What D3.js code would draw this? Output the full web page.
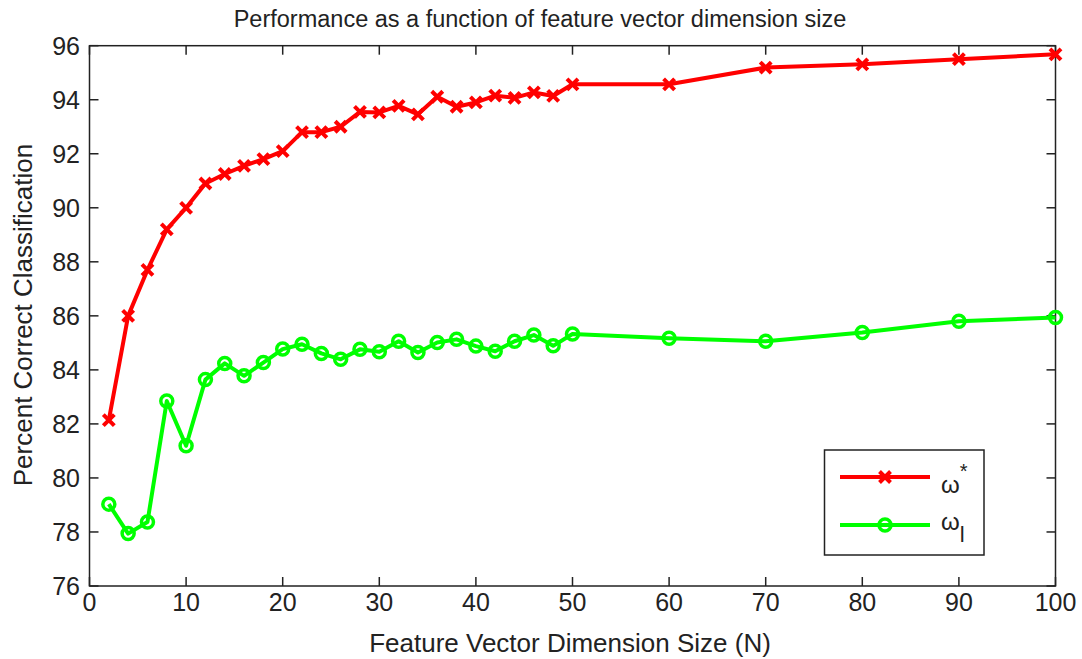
<!DOCTYPE html>
<html><head><meta charset="utf-8">
<script src="https://cdn.jsdelivr.net/npm/d3@7"></script>
<style>body{margin:0;background:#fff}svg text{font-family:"Liberation Sans",Arial,sans-serif;fill:#222}</style>
</head><body><svg id="c" width="1082" height="659"></svg>
<script>
const dims = [2,4,6,8,10,12,14,16,18,20,22,24,26,28,30,32,34,36,38,40,42,44,46,48,50,60,70,80,90,100];
const omegaStar = [82.14,86.0,87.7,89.2,90.0,90.9,91.25,91.55,91.8,92.1,92.8,92.8,93.0,93.55,93.53,93.77,93.46,94.11,93.74,93.9,94.15,94.07,94.27,94.14,94.57,94.57,95.19,95.31,95.5,95.68];
const omegaL = [79.03,77.94,78.37,82.85,81.19,83.64,84.24,83.78,84.27,84.77,84.95,84.61,84.39,84.76,84.67,85.06,84.64,85.01,85.13,84.88,84.69,85.06,85.29,84.89,85.33,85.17,85.06,85.38,85.8,85.94];
const xTicks = [0,10,20,30,40,50,60,70,80,90,100];
const yTicks = [76,78,80,82,84,86,88,90,92,94,96];
const title = "Performance as a function of feature vector dimension size";
const xLabel = "Feature Vector Dimension Size (N)";
const yLabel = "Percent Correct Classification";

const svg = d3.select("#c");
const L=89.5, R=1055.5, T=45.7, B=586;
const x = d3.scaleLinear().domain([0,100]).range([L,R]);
const y = d3.scaleLinear().domain([76,96]).range([B,T]);
const axisCol="#222";
svg.append("rect").attr("x",L).attr("y",T).attr("width",R-L).attr("height",B-T).attr("fill","none").attr("stroke",axisCol).attr("stroke-width",1.5);
const tl=9;
const g=svg.append("g");
xTicks.forEach(t=>{
  g.append("line").attr("x1",x(t)).attr("x2",x(t)).attr("y1",B).attr("y2",B-tl).attr("stroke",axisCol).attr("stroke-width",1.5);
  g.append("line").attr("x1",x(t)).attr("x2",x(t)).attr("y1",T).attr("y2",T+tl).attr("stroke",axisCol).attr("stroke-width",1.5);
  g.append("text").attr("x",x(t)).attr("y",611).attr("text-anchor","middle").attr("font-size",25).text(t);
});
yTicks.forEach(t=>{
  g.append("line").attr("x1",L).attr("x2",L+tl).attr("y1",y(t)).attr("y2",y(t)).attr("stroke",axisCol).attr("stroke-width",1.5);
  g.append("line").attr("x1",R).attr("x2",R-tl).attr("y1",y(t)).attr("y2",y(t)).attr("stroke",axisCol).attr("stroke-width",1.5);
  g.append("text").attr("x",80).attr("y",y(t)+9).attr("text-anchor","end").attr("font-size",25).text(t);
});
svg.append("text").attr("x",540).attr("y",27).attr("text-anchor","middle").attr("font-size",23.5).text(title);
svg.append("text").attr("x",570).attr("y",652).attr("text-anchor","middle").attr("font-size",26).text(xLabel);
svg.append("text").attr("transform","translate(32,315) rotate(-90)").attr("text-anchor","middle").attr("font-size",26).text(yLabel);

const line=d3.line().x(d=>x(d[0])).y(d=>y(d[1]));
const red="#ff0000", green="#00ff00";
const sStar=dims.map((d,i)=>[d,omegaStar[i]]);
const sL=dims.map((d,i)=>[d,omegaL[i]]);
svg.append("path").datum(sStar).attr("d",line).attr("fill","none").attr("stroke",red).attr("stroke-width",4).attr("stroke-linejoin","round");
svg.append("path").datum(sL).attr("d",line).attr("fill","none").attr("stroke",green).attr("stroke-width",4).attr("stroke-linejoin","round");
function xMark(sel,cx,cy){const s=5.5;
  sel.append("path").attr("d",`M${cx-s},${cy-s}L${cx+s},${cy+s}M${cx-s},${cy+s}L${cx+s},${cy-s}`).attr("stroke",red).attr("stroke-width",4).attr("fill","none");}
function oMark(sel,cx,cy){sel.append("circle").attr("cx",cx).attr("cy",cy).attr("r",6).attr("fill","none").attr("stroke",green).attr("stroke-width",3.5);}
const mk=svg.append("g");
sStar.forEach(d=>xMark(mk,x(d[0]),y(d[1])));
sL.forEach(d=>oMark(mk,x(d[0]),y(d[1])));
const lg=svg.append("g");
lg.append("rect").attr("x",824.5).attr("y",450).attr("width",159.5).attr("height",105).attr("fill","#fff").attr("stroke",axisCol).attr("stroke-width",1.5);
lg.append("line").attr("x1",840).attr("x2",930).attr("y1",477).attr("y2",477).attr("stroke",red).attr("stroke-width",4);
xMark(lg,885,477);
lg.append("line").attr("x1",840).attr("x2",930).attr("y1",525).attr("y2",525).attr("stroke",green).attr("stroke-width",4);
oMark(lg,885,525);
const t1=lg.append("text").attr("x",941).attr("y",493).attr("font-size",24);
t1.append("tspan").text("ω");
t1.append("tspan").attr("dy",-15).attr("font-size",20).text("*");
const t2=lg.append("text").attr("x",941).attr("y",530).attr("font-size",24);
t2.append("tspan").text("ω");
t2.append("tspan").attr("dy",12).attr("font-size",22).text("l");
</script></body></html>
